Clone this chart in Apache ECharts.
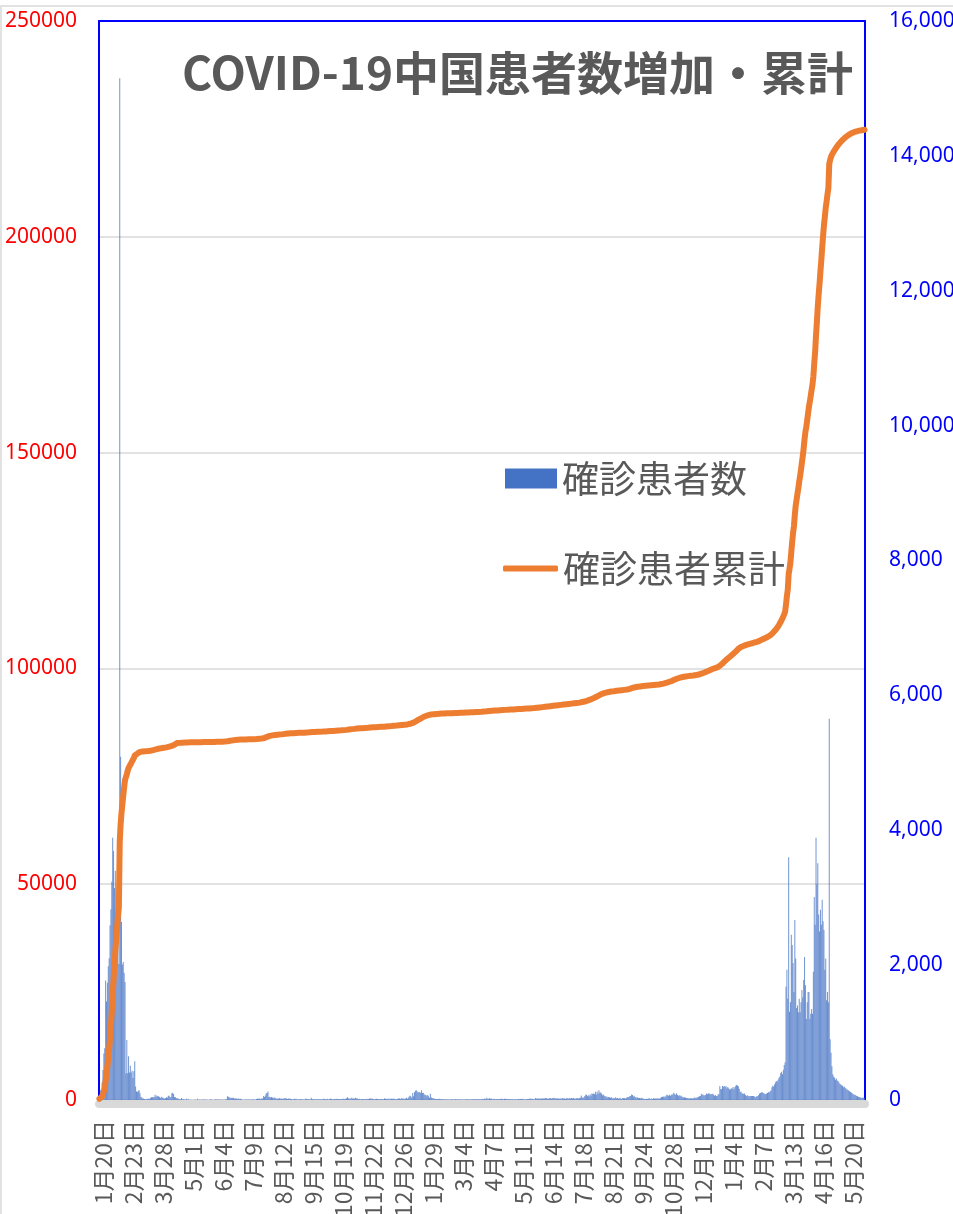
<!DOCTYPE html>
<html>
<head>
<meta charset="utf-8">
<script src="https://cdn.jsdelivr.net/npm/echarts@6/dist/echarts.min.js"></script>
<style>
html,body{margin:0;padding:0;background:#fff;overflow:hidden;}
#chart{width:953px;height:1214px;}
</style>
</head>
<body>
<div id="chart"></div>
<script>
// ---- data ----
const titleText = 'COVID-19中国患者数増加・累計';
const seriesNames = ['確診患者数', '確診患者累計'];
const firstDate = '2020-01-20';
const missingDates = ['2020-06-30'];
const xLabelEvery = 34;
const leftAxisTicks = [0, 50000, 100000, 150000, 200000, 250000];
const rightAxisTicks = [0, 2000, 4000, 6000, 8000, 10000, 12000, 14000, 16000];

const dailyCases2020 = [
  77,149,131,259,444,688,769,1771,1459,1737,1982,2102,
  2590,2829,3235,3887,3694,3143,3399,2656,3062,2478,2015,15152,5090,2641,2009,2048,1886,1749,394,889,397,648,409,508,406,433,327,427,573,
  202,125,119,139,143,99,44,40,19,24,15,8,11,20,16,21,13,34,39,41,46,39,78,47,67,55,54,45,31,48,36,
  35,31,19,30,39,32,62,63,42,46,99,108,89,46,46,26,27,27,16,12,11,30,10,12,11,3,6,22,4,12,
  2,1,2,1,1,2,4,2,1,17,1,7,3,4,5,7,5,6,4,2,2,3,0,2,11,7,1,2,2,4,16,
  5,6,3,6,5,4,6,3,3,3,11,8,57,49,40,32,28,34,29,32,18,26,23,19,17,21,11,17,12,
  3,5,4,6,8,4,6,7,3,7,3,8,11,8,6,4,13,22,16,27,13,17,22,21,61,46,68,101,105,127,45,
  49,36,43,36,27,37,32,23,23,19,22,25,19,22,22,13,22,28,22,24,16,22,20,21,14,15,9,9,19,11,17,
  5,10,11,12,10,10,9,6,7,11,21,14,10,10,7,6,32,14,12,13,8,10,7,12,10,9,14,8,10,7,
  19,11,12,10,20,9,9,13,21,13,6,11,16,13,15,20,13,13,12,12,15,16,17,20,13,20,27,42,25,24,19,
  24,35,20,25,15,33,26,26,15,16,17,8,13,11,13,12,16,11,17,12,16,22,23,18,22,14,15,8,16,18,
  14,10,14,13,14,12,14,9,21,24,14,20,13,23,8,17,18,20,15,23,8,14,14,19,24,22,15,25,21,24,22
];
const dailyCases2021 = [
  16,24,33,17,32,53,63,53,37,103,55,115,138,144,130,109,118,118,103,144,103,107,80,79,75,54,75,54,30,92,42,
  30,25,21,19,12,15,11,14,17,14,10,14,11,8,10,9,7,11,7,8,8,6,11,7,9,9,10,13,
  9,7,10,6,8,6,12,7,5,9,11,8,10,7,8,7,12,9,14,8,12,11,10,9,13,10,12,8,11,15,12,
  21,16,23,32,15,19,27,20,24,14,11,17,16,10,12,13,11,15,14,17,19,16,12,17,14,18,12,15,13,11,
  13,8,10,9,10,11,10,9,11,16,12,14,13,17,16,12,11,8,10,13,15,14,27,20,14,17,11,9,30,23,21,
  24,23,23,18,23,23,22,21,29,28,29,18,20,25,25,24,27,31,33,26,24,23,21,23,23,19,27,18,31,22,
  24,16,29,27,23,21,28,21,28,23,31,27,19,22,30,31,24,26,34,65,42,31,39,59,76,76,55,72,51,85,64,
  98,90,96,85,124,80,125,94,143,108,111,95,70,81,64,61,42,53,37,46,42,32,40,22,32,21,31,39,23,28,21,
  21,32,18,20,28,28,26,21,29,43,46,43,59,59,80,74,51,63,41,39,33,40,30,28,24,34,27,24,19,15,
  15,20,14,21,26,12,21,18,15,29,19,21,22,24,25,17,24,34,43,48,49,52,39,62,77,71,62,76,60,83,75,
  93,109,86,78,99,74,62,70,57,65,52,40,36,41,37,29,30,29,23,25,26,25,23,22,38,33,29,36,40,47,
  55,61,91,78,80,66,72,78,97,87,96,101,86,88,84,93,79,64,74,61,60,86,87,206,158,162,209,197,209,191,206
];
const dailyCases2022 = [
  175,191,175,157,161,174,165,192,159,190,210,221,216,204,165,119,127,97,101,89,95,73,60,72,64,57,55,58,60,61,59,
  57,46,44,58,54,73,96,104,112,118,105,101,90,84,95,105,120,110,130,141,190,210,200,230,260,280,270,300,
  330,350,400,420,380,450,520,560,1680,1930,1500,3600,1310,1450,2450,2300,2030,1600,2670,2100,1365,1400,1300,1500,1300,1450,1630,1520,1780,2120,1700,
  1200,1450,1600,1600,1200,1280,1350,1280,1900,3010,2600,3890,3200,3510,2750,2500,2820,2600,2970,2650,2520,1930,2100,1480,1600,1450,5655,900,700,500,
  380,350,330,300,320,290,280,260,240,230,220,210,190,200,180,170,160,150,140,130,120,110,100,90,80,70,75,60,55,50,45,
  40,35,30,38,32,28
];

const cumulative2020 = [
  291,440,571,830,1287,1975,2744,4515,5974,7711,9692,11791,
  14380,17205,20438,24324,28018,31161,34546,37198,40171,42638,44653,59804,63851,66492,68500,70548,72436,74185,74576,75465,76288,76936,77150,77658,78064,78497,78824,79251,79824,
  80026,80151,80270,80409,80552,80651,80695,80735,80754,80778,80793,80813,80824,80844,80860,80881,80894,80928,80967,81008,81054,81093,81171,81218,81285,81340,81394,81439,81470,81518,81554,
  81589,81620,81639,81669,81708,81740,81802,81865,81907,81953,82052,82160,82249,82295,82341,82367,82692,82719,82735,82747,82758,82788,82798,82810,82821,82824,82830,82852,82856,82868,
  82870,82871,82873,82874,82875,82877,82881,82883,82884,82901,82902,82909,82912,82916,82921,82928,82933,82939,82943,82945,82947,82950,82950,82952,82963,82970,82971,82973,82975,82979,82995,
  83000,83006,83009,83015,83020,83024,83030,83033,83036,83039,83050,83058,83115,83164,83204,83236,83264,83298,83327,83359,83377,83403,83426,83445,83462,83483,83494,83511,83523,
  83526,83531,83535,83541,83549,83553,83559,83566,83569,83576,83579,83587,83598,83606,83612,83616,83629,83651,83667,83694,83707,83724,83746,83767,83828,83874,83942,84043,84148,84275,84320,
  84369,84405,84448,84484,84511,84548,84580,84603,84626,84645,84667,84692,84711,84733,84755,84768,84790,84818,84840,84864,84880,84902,84922,84943,84957,84972,84981,84990,85009,85020,85037,
  85042,85052,85063,85075,85085,85095,85104,85110,85117,85128,85149,85163,85173,85183,85190,85196,85228,85242,85254,85267,85275,85285,85292,85304,85314,85323,85337,85345,85355,85362,
  85381,85392,85404,85414,85434,85443,85452,85465,85486,85499,85505,85516,85532,85545,85560,85580,85593,85606,85618,85630,85645,85661,85678,85698,85711,85731,85758,85800,85825,85849,85868,
  85892,85927,85947,85972,85987,86020,86046,86072,86087,86103,86120,86128,86141,86152,86165,86177,86193,86204,86221,86233,86249,86271,86294,86312,86334,86348,86363,86371,86387,86405,
  86419,86429,86443,86456,86470,86482,86496,86505,86526,86550,86564,86584,86597,86620,86628,86645,86663,86683,86698,86721,86729,86743,86757,86776,86800,86822,86837,86862,86883,86907,86929
];
const cumulative2021 = [
  86945,86969,87002,87019,87051,87104,87167,87220,87257,87360,87415,87530,87668,87812,87942,88051,88169,88287,88390,88534,88637,88744,88824,88903,88978,89032,89107,89161,89191,89283,89325,
  89355,89380,89401,89420,89432,89447,89458,89472,89489,89503,89513,89527,89538,89546,89556,89565,89572,89583,89590,89598,89606,89612,89623,89630,89639,89648,89658,89671,
  89680,89687,89697,89703,89711,89717,89729,89736,89741,89750,89761,89769,89779,89786,89794,89801,89813,89822,89836,89844,89856,89867,89877,89886,89899,89909,89921,89929,89940,89955,89967,
  89988,90004,90027,90059,90074,90093,90120,90140,90164,90178,90189,90206,90222,90232,90244,90257,90268,90283,90297,90314,90333,90349,90361,90378,90392,90410,90422,90437,90450,90461,
  90474,90482,90492,90501,90511,90522,90532,90541,90552,90568,90580,90594,90607,90624,90640,90652,90663,90671,90681,90694,90709,90723,90750,90770,90784,90801,90812,90821,90851,90874,90895,
  90919,90942,90965,90983,91006,91029,91051,91072,91101,91129,91158,91176,91196,91221,91246,91270,91297,91328,91361,91387,91411,91434,91455,91478,91501,91520,91547,91565,91596,91618,
  91642,91658,91687,91714,91737,91758,91786,91807,91835,91858,91889,91916,91935,91957,91987,92018,92042,92068,92102,92167,92209,92240,92279,92338,92414,92490,92545,92617,92668,92753,92817,
  92915,93005,93101,93186,93310,93390,93515,93609,93752,93860,93971,94066,94136,94217,94281,94342,94384,94437,94474,94520,94562,94594,94634,94656,94688,94709,94740,94779,94802,94830,94851,
  94872,94904,94922,94942,94970,94998,95024,95045,95074,95117,95163,95206,95265,95324,95404,95478,95529,95592,95633,95672,95705,95745,95775,95803,95827,95861,95888,95912,95931,95946,
  95961,95981,95995,96016,96042,96054,96075,96093,96108,96137,96156,96177,96199,96223,96248,96265,96289,96323,96366,96414,96463,96515,96554,96616,96693,96764,96826,96902,96962,97045,97120,
  97213,97322,97408,97486,97585,97659,97721,97791,97848,97913,97965,98005,98041,98082,98119,98148,98178,98207,98230,98255,98281,98306,98329,98351,98389,98422,98451,98487,98527,98574,
  98629,98690,98781,98859,98939,99005,99077,99155,99252,99339,99435,99536,99622,99710,99794,99887,99966,100030,100104,100165,100225,100311,100398,100604,100762,100924,101133,101330,101539,101730,101936
];
const cumulative2022 = [
  102111,102302,102477,102634,102795,102969,103134,103326,103485,103675,103885,104106,104322,104526,104691,104810,104937,105034,105135,105224,105319,105392,105452,105524,105588,105645,105700,105758,105818,105879,105938,
  105995,106041,106085,106143,106197,106270,106366,106470,106582,106700,106805,106906,106996,107080,107175,107280,107400,107510,107640,107781,107971,108181,108381,108611,108871,109151,109421,109721,
  110051,110401,110801,111221,111601,112051,112571,113131,114811,116741,118241,121841,123151,124601,127051,129351,131381,132981,135651,137751,139116,140516,141816,143316,144616,146066,147696,149216,150996,153116,154816,
  156016,157466,159066,160666,161866,163146,164496,165776,167676,170686,173286,177176,180376,183886,186636,189136,191956,194556,197526,200176,202696,204626,206726,208206,209806,211256,216911,217811,218511,219011,
  219391,219741,220071,220371,220691,220981,221261,221521,221761,221991,222211,222421,222611,222811,222991,223161,223321,223471,223611,223741,223861,223971,224071,224161,224241,224311,224386,224446,224501,224551,224596,
  224636,224671,224701,224739,224771,224799
];

// ---- build ----
const dailyCases = dailyCases2020.concat(dailyCases2021, dailyCases2022);
const cumulativeCases = cumulative2020.concat(cumulative2021, cumulative2022);

const categories = [];
(function () {
  const p = firstDate.split('-').map(Number);
  let t = Date.UTC(p[0], p[1] - 1, p[2]);
  while (categories.length < dailyCases.length) {
    const d = new Date(t);
    const key = d.toISOString().slice(0, 10);
    if (missingDates.indexOf(key) < 0) {
      categories.push((d.getUTCMonth() + 1) + '月' + d.getUTCDate() + '日');
    }
    t += 86400000;
  }
})();

const cjk = '"Noto Sans CJK JP", "Noto Sans", sans-serif';
const chart = echarts.init(document.getElementById('chart'), null, { renderer: 'canvas' });

chart.setOption({
  animation: false,
  backgroundColor: '#ffffff',
  title: {
    text: titleText,
    left: 182,
    top: 50,
    padding: 0,
    textStyle: { fontSize: 46, fontWeight: 'bold', color: '#595959', fontFamily: cjk }
  },
  graphic: [{
    type: 'rect', silent: true, z: 0,
    shape: { x: 1, y: 6, width: 1000, height: 1300 },
    style: { fill: 'none', stroke: '#D9D9D9', lineWidth: 1.5 }
  }],
  legend: [{
    data: [seriesNames[0]],
    left: 505, top: 460,
    icon: 'rect', itemWidth: 52, itemHeight: 20,
    itemStyle: { color: '#4472C4', opacity: 1 },
    selectedMode: false, padding: 0,
    textStyle: { fontSize: 37, color: '#595959', fontFamily: cjk }
  }, {
    data: [seriesNames[1]],
    left: 503, top: 550,
    icon: 'roundRect', itemWidth: 55, itemHeight: 6,
    selectedMode: false, padding: 0,
    textStyle: { fontSize: 37, color: '#595959', fontFamily: cjk }
  }],
  grid: { left: 99, right: 88, top: 21, bottom: 114, containLabel: false, outerBoundsMode: 'none' },
  xAxis: [{
    type: 'category',
    data: categories,
    boundaryGap: true,
    position: 'bottom',
    offset: 4,
    axisLine: { show: true, onZero: false, lineStyle: { color: '#D9D9D9', width: 8 } },
    axisTick: { show: false },
    axisLabel: {
      interval: xLabelEvery - 1,
      rotate: 90,
      margin: 16,
      color: '#595959',
      fontSize: 23,
      fontFamily: cjk,
      formatter: v => '{d|' + v + '}',
      rich: {
        d: { fontSize: 23, color: '#595959', fontFamily: cjk, padding: [8, 0, 0, 0] }
      }
    },
    splitLine: { show: false }
  }, {
    type: 'category',
    position: 'top',
    data: categories,
    axisLine: { show: true, onZero: false, lineStyle: { color: '#0000FF', width: 2 } },
    axisTick: { show: false },
    axisLabel: { show: false },
    splitLine: { show: false }
  }],
  yAxis: [{
    type: 'value',
    position: 'left',
    min: leftAxisTicks[0],
    max: leftAxisTicks[leftAxisTicks.length - 1],
    interval: leftAxisTicks[1] - leftAxisTicks[0],
    axisLine: { show: true, onZero: false, lineStyle: { color: '#0000FF', width: 2 } },
    axisTick: { show: false },
    axisLabel: { color: '#FF0000', fontSize: 21, margin: 22, fontFamily: '"Noto Sans", sans-serif', formatter: v => String(v) },
    splitLine: { show: true, lineStyle: { color: '#D9D9D9', width: 1.5 } }
  }, {
    type: 'value',
    position: 'right',
    min: rightAxisTicks[0],
    max: rightAxisTicks[rightAxisTicks.length - 1],
    interval: rightAxisTicks[1] - rightAxisTicks[0],
    axisLine: { show: true, onZero: false, lineStyle: { color: '#0000FF', width: 2 } },
    axisTick: { show: false },
    axisLabel: { color: '#0000FF', fontSize: 21, margin: 24, fontFamily: '"Noto Sans", sans-serif', formatter: v => v.toLocaleString('en-US') },
    splitLine: { show: false }
  }],
  series: [{
    name: seriesNames[0],
    type: 'bar',
    xAxisIndex: 0,
    yAxisIndex: 1,
    data: dailyCases,
    barCategoryGap: '60%',
    itemStyle: { color: '#4472C4', opacity: 0.75 },
    z: 2
  }, {
    name: seriesNames[1],
    type: 'line',
    xAxisIndex: 0,
    yAxisIndex: 0,
    data: cumulativeCases,
    symbol: 'none',
    showSymbol: false,
    itemStyle: { color: '#ED7D31' },
    lineStyle: { color: '#ED7D31', width: 6, cap: 'round', join: 'round' },
    z: 3
  }]
});
</script>
</body>
</html>
